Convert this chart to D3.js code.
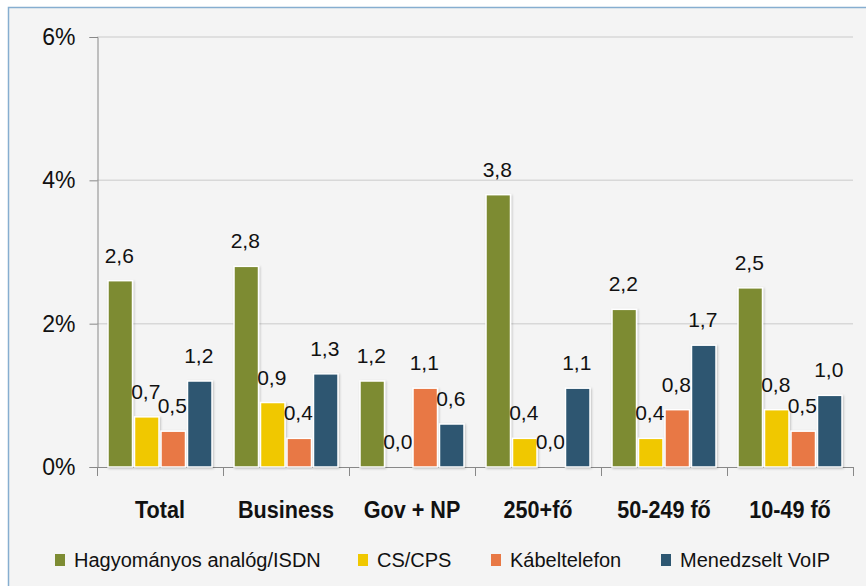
<!DOCTYPE html>
<html lang="hu">
<head>
<meta charset="UTF-8">
<title>Chart</title>
<style>
  body { margin: 0; background: #fff; }
  svg text { font-family: "Liberation Sans", Arial, sans-serif; fill: #111; }
</style>
</head>
<body>
<svg id="svg"></svg>
<script src="https://d3js.org/d3.v7.min.js"></script>
<script>
// adatok
const categories = ["Total", "Business", "Gov + NP", "250+fő", "50-249 fő", "10-49 fő"];
const seriesNames = ["Hagyományos analóg/ISDN", "CS/CPS", "Kábeltelefon", "Menedzselt VoIP"];
const analog = [2.6, 2.8, 1.2, 3.8, 2.2, 2.5];
const cscps  = [0.7, 0.9, 0.0, 0.4, 0.4, 0.8];
const kabel  = [0.5, 0.4, 1.1, 0.0, 0.8, 0.5];
const voip   = [1.2, 1.3, 0.6, 1.1, 1.7, 1.0];
const yTicks = [0, 2, 4, 6];
const colors = ["#7d8b32", "#f0c800", "#e87844", "#2d5671"];

const values = [analog, cscps, kabel, voip];

const width = 866, height = 586;
const svg = d3.select("#svg").attr("width", width).attr("height", height);

// árnyék
const defs = svg.append("defs");
defs.append("filter").attr("id", "shadow").attr("x", "-20%").attr("y", "-5%")
  .attr("width", "150%").attr("height", "115%")
  .append("feDropShadow").attr("dx", 1).attr("dy", 1).attr("stdDeviation", 1)
  .attr("flood-color", "#000").attr("flood-opacity", 0.22);

// keret
svg.append("rect").attr("x", 8).attr("y", 7).attr("width", width - 8).attr("height", height - 7)
  .attr("fill", "#f4f4f4");
svg.append("path").attr("d", "M8.5,586 V7.5 H866").attr("fill", "none")
  .attr("stroke", "#86aed0").attr("stroke-width", 1.5);

const y = d3.scaleLinear().domain([0, 6]).range([467, 37]);
const x0 = d3.scaleBand().domain(categories).range([97, 853]);
const x1 = d3.scaleBand().domain(seriesNames).range([10, 116]);

// rács
svg.append("g").selectAll("line").data(yTicks.filter(d => d > 0)).join("line")
  .attr("x1", 97).attr("x2", 853)
  .attr("y1", d => y(d)).attr("y2", d => y(d))
  .attr("stroke", "#d8d8d8").attr("stroke-width", 1.5);

// y tengely
const yAxis = svg.append("g").attr("transform", "translate(97.5,0)")
  .call(d3.axisLeft(y).tickValues(yTicks).tickSize(8).tickPadding(14).tickFormat(d => d + "%"));
yAxis.select(".domain").attr("stroke", "#888");
yAxis.selectAll(".tick line").attr("stroke", "#888");
yAxis.selectAll(".tick text").attr("font-size", 23).attr("fill", "#111")
  .attr("font-family", "Liberation Sans, Arial, sans-serif");

// x tengely
const xg = svg.append("g");
xg.append("line").attr("x1", 97).attr("x2", 853).attr("y1", 467.5).attr("y2", 467.5).attr("stroke", "#888");
xg.selectAll("line.t").data(d3.range(categories.length + 1)).join("line").attr("class", "t")
  .attr("x1", i => Math.round(97 + i * x0.step()) + 0.5)
  .attr("x2", i => Math.round(97 + i * x0.step()) + 0.5)
  .attr("y1", 467).attr("y2", 476).attr("stroke", "#888");
xg.selectAll("text").data(categories).join("text")
  .attr("transform", d => `translate(${x0(d) + x0.bandwidth() / 2},518) scale(0.9,1)`)
  .attr("text-anchor", "middle")
  .attr("font-size", 24).attr("font-weight", "bold")
  .text(d => d);

// oszlopok
const groups = svg.append("g").selectAll("g").data(categories).join("g")
  .attr("transform", d => `translate(${x0(d)},0)`);

groups.each(function(cat, ci) {
  const g = d3.select(this);
  seriesNames.forEach((s, si) => {
    const v = values[si][ci];
    const bx = x1(s) + 1;
    const bw = x1.bandwidth() - 2;
    if (v > 0) {
      g.append("rect")
        .attr("x", bx).attr("y", y(v))
        .attr("width", bw).attr("height", y(0) - y(v))
        .attr("fill", colors[si])
        .attr("stroke", "#fff").attr("stroke-width", 1.5)
        .attr("filter", "url(#shadow)");
    }
    g.append("text")
      .attr("x", bx + bw / 2 - 1)
      .attr("y", y(v) - 18)
      .attr("text-anchor", "middle")
      .attr("font-size", 21)
      .text(v.toFixed(1).replace(".", ","));
  });
});

// jelmagyarázat
const legendX = [55, 358, 491, 661];
const lg = svg.append("g").selectAll("g").data(seriesNames).join("g")
  .attr("transform", (d, i) => `translate(${legendX[i]},560)`);
lg.append("rect").attr("x", 0).attr("y", -6).attr("width", 10).attr("height", 12)
  .attr("fill", (d, i) => colors[i]);
lg.append("text").attr("x", 19).attr("y", 7).attr("font-size", 20).text(d => d);
</script>
</body>
</html>
